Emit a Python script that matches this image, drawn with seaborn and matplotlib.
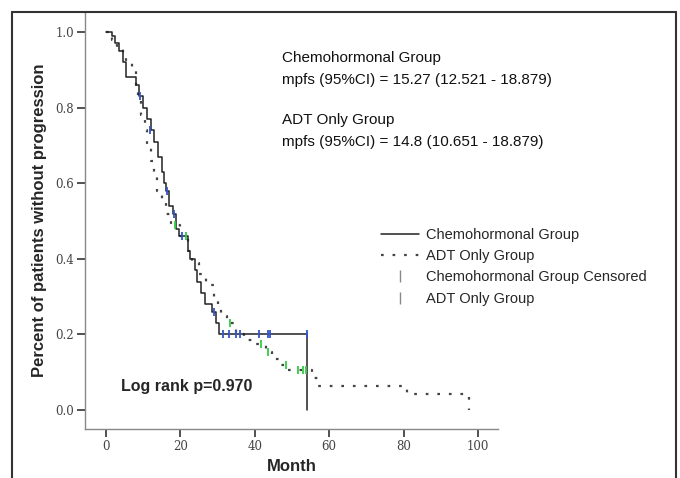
import numpy as np
import pandas as pd
import matplotlib
matplotlib.use("Agg")
import matplotlib.pyplot as plt
import seaborn as sns
from matplotlib.lines import Line2D

# Chemohormonal group: event times (months) and survival after each step
chemo_t = [0, 1.5, 2.5, 3.5, 4.5, 5.5, 8, 9, 10, 11, 12, 13, 14, 15, 15.5, 16, 17,
           18, 18.8, 19.5, 22, 22.6, 24, 24.5, 25.5, 26.5, 28.5, 29.5, 30.5, 54, 54]
chemo_s = [1.0, 0.99, 0.97, 0.95, 0.92, 0.88, 0.86, 0.83, 0.80, 0.77, 0.74, 0.71, 0.67, 0.63, 0.60,
           0.58, 0.54, 0.52, 0.48, 0.46, 0.42, 0.40, 0.37, 0.34, 0.31, 0.28, 0.26, 0.23, 0.20, 0.20, 0.0]
chemo_cens_t = [9.2, 11.8, 16.4, 18.3, 20.4, 29.0, 31.5, 33.0, 35.0, 36.0, 41.0, 43.5, 44.0, 54.0]
chemo_cens_s = [0.83, 0.74, 0.58, 0.52, 0.46, 0.26, 0.20, 0.20, 0.20, 0.20, 0.20, 0.20, 0.20, 0.20]

# ADT only group
adt_t = [0, 1.5, 3, 4.5, 5.5, 7, 8, 8.5, 9.5, 10.5, 11, 12, 12.8, 13.8, 15, 16, 17.5, 20,
         22, 23, 25, 27, 29, 30, 31, 32.5, 35, 37, 40, 43, 44.5, 46.5, 49, 55.5, 57, 81, 97.5, 97.5]
adt_s = [1.0, 0.98, 0.96, 0.94, 0.92, 0.90, 0.86, 0.82, 0.78, 0.74, 0.70, 0.66, 0.62, 0.58, 0.55,
         0.52, 0.49, 0.46, 0.42, 0.39, 0.36, 0.33, 0.30, 0.27, 0.25, 0.23, 0.20, 0.185, 0.175, 0.155,
         0.135, 0.12, 0.105, 0.085, 0.064, 0.043, 0.043, 0.0]
adt_cens_t = [18.5, 21.5, 33.4, 41.8, 43.5, 48.5, 51.5, 53.0, 53.7]
adt_cens_s = [0.49, 0.46, 0.23, 0.175, 0.155, 0.12, 0.105, 0.105, 0.105]

chemo = pd.DataFrame({"month": chemo_t, "surv": chemo_s})
adt = pd.DataFrame({"month": adt_t, "surv": adt_s})

sns.set_style("white")
plt.rcParams["font.family"] = ["Liberation Sans", "DejaVu Sans"]

fig = plt.figure(figsize=(6.8, 4.78), dpi=100)
ax = fig.add_axes([0.125, 0.1025, 0.6074, 0.8724])

sns.lineplot(x="month", y="surv", data=adt, ax=ax, sort=False, estimator=None,
             drawstyle="steps-post", color="#444444", linewidth=1.6,
             linestyle=(0, (1.2, 4)))
sns.lineplot(x="month", y="surv", data=chemo, ax=ax, sort=False, estimator=None,
             drawstyle="steps-post", color="#222222", linewidth=1.1)
sns.scatterplot(x=adt_cens_t, y=adt_cens_s, ax=ax, marker="|", s=40, linewidth=1.3,
                color="#33cc44", zorder=5)
sns.scatterplot(x=chemo_cens_t, y=chemo_cens_s, ax=ax, marker="|", s=40, linewidth=1.3,
                color="#3355cc", zorder=5)

ax.set_xlim(-5.65, 105.4)
ax.set_ylim(-0.05, 1.053)
ax.set_xticks([0, 20, 40, 60, 80, 100])
ax.set_yticks([0.0, 0.2, 0.4, 0.6, 0.8, 1.0])
ax.set_yticklabels(["0.0", "0.2", "0.4", "0.6", "0.8", "1.0"])
for s in ["top", "right"]:
    ax.spines[s].set_visible(False)
for s in ["left", "bottom"]:
    ax.spines[s].set_color("#888888")
    ax.spines[s].set_linewidth(1.0)
ax.tick_params(axis="both", direction="out", length=6, width=1.2, color="#333333",
               labelsize=8.5, labelcolor="#444444", left=True, bottom=True, pad=2)
for lab in ax.get_xticklabels() + ax.get_yticklabels():
    lab.set_family("DejaVu Serif")

ax.set_xlabel("Month", fontsize=12, fontweight="bold", labelpad=4)
ax.set_ylabel("Percent of patients without progression", fontsize=12,
              fontweight="bold", labelpad=6)

ax.text(121 / 680, 1 - 386 / 478, "Log rank p=0.970", transform=fig.transFigure,
        fontsize=11.5, fontweight="bold", va="center")
txt = [("Chemohormonal Group", 58), ("mpfs (95%CI) = 15.27 (12.521 - 18.879)", 80),
       ("ADT Only Group", 120), ("mpfs (95%CI) = 14.8 (10.651 - 18.879)", 142)]
for t, yy in txt:
    fig.text(282 / 680, 1 - yy / 478, t, fontsize=11, va="center", color="#111111")

handles = [Line2D([], [], color="#222222", lw=1.1),
           Line2D([], [], color="#444444", lw=1.6, linestyle=(0, (1.2, 4))),
           Line2D([], [], color="#888888", marker="|", linestyle="none", markersize=9),
           Line2D([], [], color="#888888", marker="|", linestyle="none", markersize=9)]
labels = ["Chemohormonal Group", "ADT Only Group", "Chemohormonal Group Censored", "ADT Only Group"]
fig.legend(handles, labels, loc="upper left", bbox_to_anchor=(375 / 680, 1 - 222 / 478),
           frameon=False, fontsize=10.5, handlelength=2.6, labelspacing=0.5,
           handletextpad=0.5, borderaxespad=0)

# outer frame
fig.add_artist(Line2D([12 / 680, 12 / 680], [0, 1 - 12 / 478], transform=fig.transFigure,
                      color="#333333", lw=1.5))
fig.add_artist(Line2D([12 / 680, 676 / 680], [1 - 12 / 478, 1 - 12 / 478],
                      transform=fig.transFigure, color="#333333", lw=1.5))
fig.add_artist(Line2D([676 / 680, 676 / 680], [0, 1 - 12 / 478], transform=fig.transFigure,
                      color="#333333", lw=1.5))

fig.savefig("out.png", dpi=100)
